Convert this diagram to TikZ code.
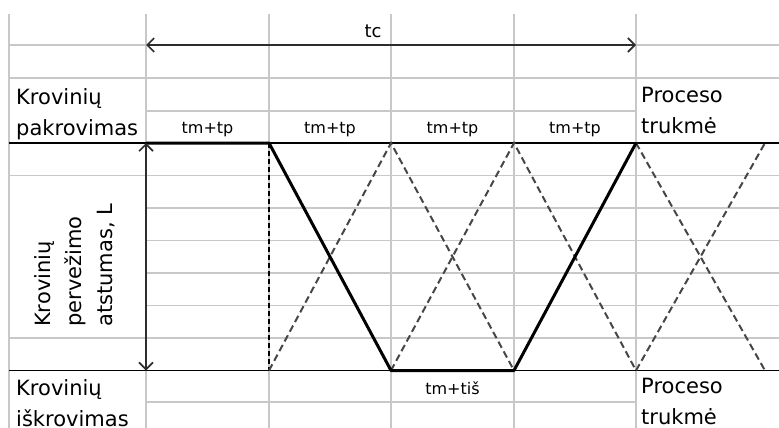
\documentclass[tikz,border=0pt]{standalone}
\usepackage{fontspec}
\setmainfont{DejaVu Sans}
\definecolor{cellgray}{RGB}{200,200,200}
\definecolor{tripgray}{RGB}{70,70,70}
\definecolor{arrgray}{RGB}{45,45,45}
\usetikzlibrary{arrows.meta}

\begin{document}
\begin{tikzpicture}[x=1pt, y=-1pt,
    cell/.style={cellgray, line width=1.5pt},
    rail/.style={black, line width=1.8pt},
    run/.style={black, line width=3pt, line join=round},
    trip/.style={tripgray, line width=2pt, dash pattern=on 7pt off 4pt},
    hold/.style={black, line width=1.4pt, dash pattern=on 5pt off 3pt},
    arr/.style={{Straight Barb[length=7pt]}-{Straight Barb[length=7pt]},
                arrgray, line width=1.6pt},
    celltext/.style={font=\fontsize{21}{31}\selectfont, inner sep=0pt, align=left},
    steptext/.style={font=\fontsize{16}{18}\selectfont, inner sep=0pt}
  ]
  \useasboundingbox (0,0) rectangle (779,428);

  % spreadsheet cells
  \draw[cell] (9,14) -- (9,428) (146,14) -- (146,428) (269,14) -- (269,428)
    (391,14) -- (391,428) (514,14) -- (514,428) (636,14) -- (636,428);
  \draw[cell] (9,45) -- (779,45) (9,78) -- (779,78) (146,111) -- (636,111);
  \draw[cell] (9,175.5) -- (779,175.5) (146,208) -- (779,208)
    (146,240.5) -- (779,240.5) (146,273) -- (779,273)
    (146,305.5) -- (779,305.5) (9,338) -- (779,338);
  \draw[cell] (146,402) -- (636,402);
  \draw[rail] (9,143) -- (779,143);
  \draw[rail] (9,370.5) -- (779,370.5);

  \coordinate (c1) at (146,45);
  \coordinate (c5) at (636,45);
  \coordinate (t1) at (146,143);
  \coordinate (t2) at (269,143);
  \coordinate (t3) at (391,143);
  \coordinate (t4) at (514,143);
  \coordinate (t5) at (636,143);
  \coordinate (t6) at (765,143);
  \coordinate (b1) at (146,370.5);
  \coordinate (b2) at (269,370.5);
  \coordinate (b3) at (391,370.5);
  \coordinate (b4) at (514,370.5);
  \coordinate (b5) at (636,370.5);
  \coordinate (b6) at (765,370.5);

  % other trips
  \draw[hold] (t2) -- (b2);
  \draw[trip] (b2) -- (t3) -- (b4);
  \draw[trip] (b3) -- (t4) -- (b5) -- (t6);
  \draw[trip] (t5) -- (b6);
  % one trip
  \draw[run] (t1) -- (t2) -- (b3) -- (b4) -- (t5);

  \draw[arr] (c1) -- (c5);
  \draw[arr] (t1) -- (b1);

  \node[steptext, font=\fontsize{18}{20}\selectfont, anchor=base] (tc) at (373,38) {tc};
  \node[celltext, anchor=north west] (loadL) at (16,88) {Krovinių\\pakrovimas};
  \node[celltext, anchor=north west] (loadR) at (641,87) {Proceso\\trukmė};
  \node[celltext, anchor=north west] (unloadL) at (16,379) {Krovinių\\iškrovimas};
  \node[celltext, anchor=north west] (unloadR) at (641,378) {Proceso\\trukmė};
  \node[celltext, rotate=90, anchor=north west] (dist) at (34,327)
    {Krovinių\\pervežimo\\atstumas, L};
  \node[steptext, anchor=base] (tp1) at (207.5,133) {tm+tp};
  \node[steptext, anchor=base] (tp2) at (330,133) {tm+tp};
  \node[steptext, anchor=base] (tp3) at (452.5,133) {tm+tp};
  \node[steptext, anchor=base] (tp4) at (575,133) {tm+tp};
  \node[steptext, anchor=base] (tis) at (452.5,394) {tm+tiš};
\end{tikzpicture}
\end{document}
